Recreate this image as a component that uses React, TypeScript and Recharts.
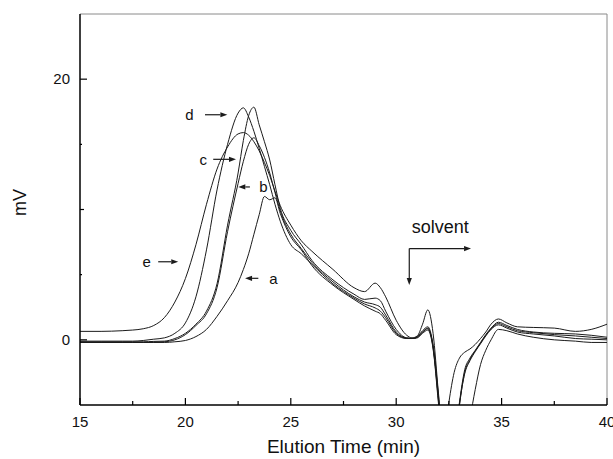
import { LineChart, Line, XAxis, YAxis, ReferenceLine, ReferenceDot } from "recharts"

// elution time (min) shared by every trace
const elutionTime = [
    15, 16, 17, 17.5, 18, 18.5, 19, 19.5, 20, 20.5,
    21, 21.5, 22, 22.5, 22.75, 23, 23.25, 23.5, 23.75, 24,
    24.25, 24.5, 25, 25.5, 26, 27, 28, 28.5, 29, 29.25,
    29.5, 30, 30.5, 30.75, 31, 31.25, 31.5, 31.75, 32, 32.25,
    32.5, 32.75, 33, 33.25, 33.5, 33.75, 34, 34.25, 34.5, 34.85,
    35.25, 35.75, 36.5, 37.5, 38.5, 39.25, 40,
]

// detector signal (mV) for each sample
const traceA = [
    -0.2, -0.2, -0.2, -0.2, -0.2, -0.2, -0.2, -0.15, -0.05, 0.25,
    0.8, 1.8, 3.0, 4.4, 5.4, 6.6, 8.1, 9.6, 11.0, 10.75,
    10.9, 9.7, 7.9, 6.9, 5.7, 4.2, 3.1, 2.6, 2.2, 2.0,
    1.5, 0.4, 0.1, 0.1, 0.15, 0.5, 0.75, -0.7, -4.8, -9,
    -12, -12, -10, -8, -6, -3.8, -1.9, -0.8, 0.0, 0.8,
    0.7, 0.45, 0.2, 0.0, -0.1, -0.2, -0.2,
]
const traceB = [
    -0.2, -0.2, -0.2, -0.2, -0.2, -0.18, -0.15, 0.0, 0.4, 1.1,
    2.0, 4.0, 8.3, 12.0, 13.7, 15.0, 15.5, 14.9, 14.0, 12.8,
    11.3, 9.9, 8.1, 7.0, 5.95, 4.45, 3.3, 2.9, 2.7, 2.5,
    1.9, 0.6, 0.13, 0.1, 0.2, 0.6, 0.85, -0.5, -4.4, -9,
    -12, -8.5, -5.0, -2.5, -1.5, -0.85, -0.25, 0.35, 0.85, 1.25,
    1.0, 0.7, 0.55, 0.4, 0.3, 0.2, 0.1,
]
const traceC = [
    -0.15, -0.15, -0.15, -0.15, -0.15, -0.12, -0.1, 0.1, 0.5, 1.2,
    2.2, 4.3, 8.8, 12.8, 15.3, 17.2, 17.85, 16.5, 15.2, 13.8,
    11.9, 10.1, 8.4, 7.3, 6.1, 4.6, 3.5, 3.1, 3.2, 3.0,
    2.2, 0.8, 0.15, 0.12, 0.25, 0.7, 1.0, -0.4, -4.2, -9,
    -12, -8, -4.8, -2.3, -1.4, -0.8, -0.2, 0.4, 0.9, 1.35,
    1.1, 0.8, 0.6, 0.5, 0.45, 0.35, 0.2,
]
const traceD = [
    -0.1, -0.1, -0.1, -0.1, -0.05, 0.05, 0.15, 0.5, 1.3, 3.3,
    6.9, 11.5, 15.0, 17.4, 17.8, 17.1, 16.0, 14.7, 13.3, 11.9,
    10.4, 9.1, 7.3, 6.6, 5.8, 4.3, 3.2, 2.75, 2.45, 2.2,
    1.7, 0.5, 0.12, 0.1, 0.2, 0.6, 0.9, -0.6, -4.6, -9,
    -12, -9, -5.0, -2.6, -1.6, -0.9, -0.3, 0.3, 0.8, 1.15,
    0.9, 0.6, 0.45, 0.3, 0.1, 0.05, 0.0,
]
const traceE = [
    0.65, 0.65, 0.7, 0.75, 0.85, 1.1, 1.7, 2.9, 4.7, 7.3,
    10.4, 13.1, 14.8, 15.8, 15.9, 15.7, 15.2, 14.5, 13.6, 12.6,
    11.4, 10.3, 8.8, 7.6, 6.8, 5.4, 4.0, 3.7, 4.35, 4.0,
    3.3, 1.5, 0.35, 0.15, 0.3, 1.2, 2.3, 0.5, -4.0, -8,
    -4.8, -2.5, -1.4, -0.95, -0.7, -0.35, 0.1, 0.6, 1.2, 1.6,
    1.3, 1.0, 0.95, 0.9, 0.65, 0.8, 1.2,
]

const xTicks = [15, 17.5, 20, 22.5, 25, 27.5, 30, 32.5, 35, 37.5, 40]
const yTicks = [0, 5, 10, 15, 20]
const yLabelled = [0, 20]

// curve labels with their little arrows
const curveNames = ["a", "b", "c", "d", "e"]
const curveLabelX = [24.17, 23.7, 20.85, 20.19, 18.16]
const curveLabelY = [4.72, 11.73, 13.85, 17.27, 5.99]
const arrowFromX = [23.46, 23.06, 21.32, 20.93, 18.71]
const arrowToX = [22.83, 22.51, 22.4, 21.99, 19.66]

const solventText = "solvent"
const solventTextAt = { x: 30.74, y: 8.67 }
const solventCorner = { x: 30.62, y: 7.0 }
const solventDownTo = 4.2
const solventRightTo = 33.55

const data = elutionTime.map((t, i) => ({
    t,
    a: traceA[i],
    b: traceB[i],
    c: traceC[i],
    d: traceD[i],
    e: traceE[i],
}))

const FONT = "'Liberation Sans', Arial, Helvetica, sans-serif"
const INK = "#1b1b1b"

const XTick = (props: any) => {
    const { x, y, payload } = props
    const v = payload.value
    const major = v % 5 === 0
    return (
        <g>
            <line x1={x} x2={x} y1={y} y2={y - (major ? 7 : 4)} stroke="#000" strokeWidth={1.2} />
            {major && (
                <text x={x} y={y + 22} textAnchor="middle" fontSize={15} fontFamily={FONT} fill="#111">
                    {v}
                </text>
            )}
        </g>
    )
}

const YTick = (props: any) => {
    const { x, y, payload } = props
    const v = payload.value
    const len = v % 10 === 0 ? (v === 10 ? 4 : 7) : 2
    return (
        <g>
            <line x1={x} x2={x + len} y1={y} y2={y} stroke="#000" strokeWidth={1.2} />
            {yLabelled.includes(v) && (
                <text x={x - 10} y={y + 5} textAnchor="end" fontSize={15} fontFamily={FONT} fill="#111">
                    {v}
                </text>
            )}
        </g>
    )
}

const YLabel = (props: any) => {
    const vb = props.viewBox
    const cx = 20
    const cy = vb.y + vb.height / 2 - 7
    return (
        <text
            x={cx}
            y={cy}
            dy="0.35em"
            transform={`rotate(-90, ${cx}, ${cy})`}
            textAnchor="middle"
            fontSize={18}
            fontFamily={FONT}
            fill="#111"
        >
            mV
        </text>
    )
}

const arrowShape = (props: any) => {
    const { x1, y1, x2, y2 } = props
    const ang = Math.atan2(y2 - y1, x2 - x1)
    const L = 7
    const W = 2.6
    const bx = x2 - L * Math.cos(ang)
    const by = y2 - L * Math.sin(ang)
    const px = -Math.sin(ang) * W
    const py = Math.cos(ang) * W
    return (
        <g>
            <line x1={x1} y1={y1} x2={bx} y2={by} stroke={INK} strokeWidth={1.2} />
            <polygon points={`${x2},${y2} ${bx + px},${by + py} ${bx - px},${by - py}`} fill={INK} />
        </g>
    )
}

const textShape = (txt: string, size: number, anchor: string) => (props: any) => (
    <text
        x={props.cx}
        y={props.cy}
        dy="0.35em"
        textAnchor={anchor}
        fontSize={size}
        fontFamily={FONT}
        fill="#111"
    >
        {txt}
    </text>
)

export default function App() {
    return (
        <div style={{ position: "absolute", left: 0, top: 0, background: "#fff" }}>
            <LineChart width={613} height={459} data={data} margin={{ top: 14, right: 6, bottom: 0, left: 0 }}>
                <XAxis
                    dataKey="t"
                    type="number"
                    domain={[15, 40]}
                    ticks={xTicks}
                    interval={0}
                    allowDataOverflow
                    height={54}
                    tickSize={0}
                    tickMargin={0}
                    tickLine={false}
                    tick={<XTick />}
                    axisLine={{ stroke: "#000", strokeWidth: 1.5 }}
                    label={{ value: "Elution Time (min)", position: "insideBottom", offset: 6, fontSize: 19, fontFamily: FONT, fill: "#111" }}
                />
                <YAxis
                    type="number"
                    domain={[-5, 25]}
                    ticks={yTicks}
                    interval={0}
                    allowDataOverflow
                    width={80}
                    tickSize={0}
                    tickMargin={0}
                    tickLine={false}
                    tick={<YTick />}
                    axisLine={{ stroke: "#000", strokeWidth: 1.5 }}
                    label={<YLabel />}
                />
                <ReferenceLine y={25} stroke="#8a8a8a" strokeWidth={1} />
                <ReferenceLine x={40} stroke="#8a8a8a" strokeWidth={1} />

                <Line type="monotone" dataKey="a" stroke={INK} strokeWidth={1} dot={false} isAnimationActive={false} />
                <Line type="monotone" dataKey="b" stroke={INK} strokeWidth={1} dot={false} isAnimationActive={false} />
                <Line type="monotone" dataKey="c" stroke={INK} strokeWidth={1} dot={false} isAnimationActive={false} />
                <Line type="monotone" dataKey="d" stroke={INK} strokeWidth={1} dot={false} isAnimationActive={false} />
                <Line type="monotone" dataKey="e" stroke={INK} strokeWidth={1} dot={false} isAnimationActive={false} />

                {curveNames.map((n, i) => (
                    <ReferenceLine
                        key={`arr-${n}`}
                        segment={[{ x: arrowFromX[i], y: curveLabelY[i] }, { x: arrowToX[i], y: curveLabelY[i] }]}
                        shape={arrowShape}
                    />
                ))}
                {curveNames.map((n, i) => (
                    <ReferenceDot
                        key={`lab-${n}`}
                        x={curveLabelX[i]}
                        y={curveLabelY[i]}
                        r={2}
                        shape={textShape(n, 15, "middle")}
                    />
                ))}

                <ReferenceLine
                    segment={[solventCorner, { x: solventCorner.x, y: solventDownTo }]}
                    shape={arrowShape}
                />
                <ReferenceLine
                    segment={[solventCorner, { x: solventRightTo, y: solventCorner.y }]}
                    shape={arrowShape}
                />
                <ReferenceDot x={solventTextAt.x} y={solventTextAt.y} r={2} shape={textShape(solventText, 18, "start")} />
            </LineChart>
        </div>
    )
}
